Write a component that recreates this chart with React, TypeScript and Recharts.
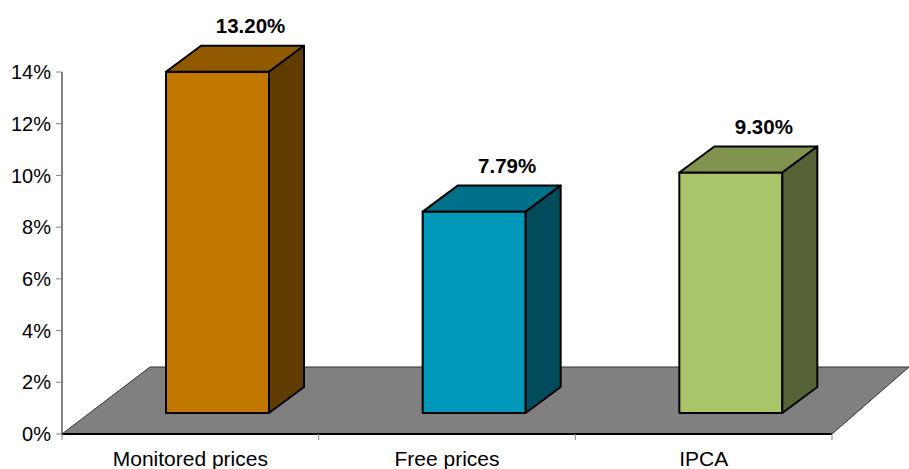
import React from 'react';
import { BarChart, Bar, XAxis, YAxis, ReferenceArea, LabelList } from 'recharts';

const categories = ['Monitored prices', 'Free prices', 'IPCA'];
const values = [13.2, 7.79, 9.3];
const yTicks = [0, 2, 4, 6, 8, 10, 12, 14];

// colours of each bar: front, top, side
const frontColors = ['#C17600', '#0097B8', '#AAC46A'];
const topColors = ['#915900', '#007189', '#80934F'];
const sideColors = ['#603C00', '#004C5C', '#556235'];

const data = categories.map((name, i) => ({ name, value: values[i] }));

const W = 909;
const H = 469;
const MARGIN = { top: 72, right: 77, left: 0, bottom: 0 };
const Y_AXIS_W = 62;
const HALF_BAND = (W - MARGIN.right - Y_AXIS_W) / categories.length / 2;

// pseudo 3D offsets
const SHIFT = { x: 27, y: -21 };
const DEPTH = { x: 35, y: -26 };
const FONT = '"Liberation Sans", Arial, sans-serif';

const Bar3D = (props: any) => {
  const { x, y, width, height, index } = props;
  const fx = x + SHIFT.x;
  const fy = y + SHIFT.y;
  const top = `${fx},${fy} ${fx + DEPTH.x},${fy + DEPTH.y} ${fx + width + DEPTH.x},${fy + DEPTH.y} ${fx + width},${fy}`;
  const side = `${fx + width},${fy} ${fx + width + DEPTH.x},${fy + DEPTH.y} ${fx + width + DEPTH.x},${fy + height + DEPTH.y} ${fx + width},${fy + height}`;
  return (
    <g stroke="#000" strokeWidth={2} strokeLinejoin="round">
      <rect x={fx} y={fy} width={width} height={height} fill={frontColors[index]} />
      <polygon points={top} fill={topColors[index]} />
      <polygon points={side} fill={sideColors[index]} />
    </g>
  );
};

const Floor = (props: any) => {
  const { x, y, width, height } = props;
  const b = y + height;
  const pts = `${x},${b} ${x + 88},${b - 67} ${x + width + 77},${b - 67} ${x + width},${b}`;
  return <polygon points={pts} fill="#808080" stroke="#333" strokeWidth={1} />;
};

const XTick = (props: any) => {
  const { x, y, payload, index } = props;
  return (
    <g>
      <line x1={x - HALF_BAND} y1={y} x2={x - HALF_BAND} y2={y + 6} stroke="#808080" />
      {index === categories.length - 1 && (
        <line x1={x + HALF_BAND} y1={y} x2={x + HALF_BAND} y2={y + 6} stroke="#808080" />
      )}
      <text x={x} y={y + 17} dy="0.71em" textAnchor="middle" fontSize={21} fontFamily={FONT} fill="#000">
        {payload.value}
      </text>
    </g>
  );
};

const ValueLabel = (props: any) => {
  const { x, y, width, value } = props;
  return (
    <text
      x={x + width / 2 + 60}
      y={y - 67}
      textAnchor="middle"
      dominantBaseline="central"
      fontSize={20.5}
      fontWeight="bold"
      fontFamily={FONT}
      fill="#000"
    >
      {`${value.toFixed(2)}%`}
    </text>
  );
};

export default function App() {
  return (
    <div style={{ position: 'absolute', left: 0, top: 0, width: W, height: H, background: '#fff' }}>
      <BarChart width={W} height={H} data={data} margin={MARGIN}>
        <ReferenceArea y1={0} y2={1} ifOverflow="visible" shape={<Floor />} />
        <Bar dataKey="value" barSize={103} shape={<Bar3D />} isAnimationActive={false}>
          <LabelList dataKey="value" content={<ValueLabel />} />
        </Bar>
        <YAxis
          width={Y_AXIS_W}
          domain={[0, 14]}
          ticks={yTicks}
          interval={0}
          tickFormatter={(v: number) => `${v}%`}
          tick={{ fontSize: 20, fill: '#000', fontFamily: FONT }}
          tickSize={6}
          tickMargin={5}
          tickLine={{ stroke: '#808080' }}
          axisLine={{ stroke: '#808080', strokeWidth: 2 }}
        />
        <XAxis
          dataKey="name"
          height={35}
          tickLine={false}
          tickSize={0}
          tickMargin={0}
          interval={0}
          tick={<XTick />}
          axisLine={{ stroke: '#000', strokeWidth: 2 }}
        />
      </BarChart>
    </div>
  );
}
